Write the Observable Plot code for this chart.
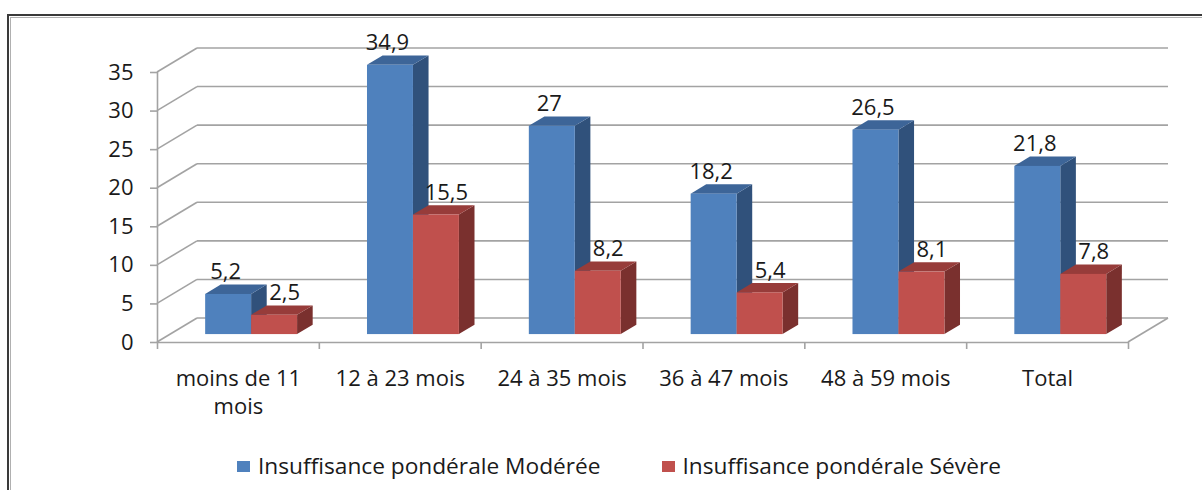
<!DOCTYPE html>
<html>
<head>
<meta charset="utf-8">
<script src="https://cdn.jsdelivr.net/npm/d3@7"></script>
<script src="https://cdn.jsdelivr.net/npm/@observablehq/plot@0.6"></script>
<style>
  html, body { margin: 0; padding: 0; background: #fff; width: 1202px; height: 490px; overflow: hidden; }
  #frame { position: absolute; left: 7px; top: 14px; width: 1300px; height: 600px; border: 2px solid #3a3a3a; }
  #frame::after { content: ""; position: absolute; left: 1px; top: 1px; right: 0; bottom: 0;
    border-left: 1px solid #b0b0b0; border-top: 1px solid #b0b0b0; }
  #chart { position: absolute; left: 0; top: 0; }
  #legend { position: absolute; left: 237px; top: 455px; display: flex; gap: 61px;
    font-family: "Open Sans", sans-serif; font-size: 22.7px; line-height: 22px; color: #1a1a1a; white-space: nowrap; }
  .item { display: flex; align-items: center; }
  .sw { width: 13px; height: 11px; margin-right: 8px; }
</style>
</head>
<body>
<div id="frame"></div>
<div id="chart"></div>
<div id="legend"></div>
<script>
// Underweight prevalence (%) by age group
const categories = ["moins de 11\nmois", "12 à 23 mois", "24 à 35 mois", "36 à 47 mois", "48 à 59 mois", "Total"];
const series = ["Insuffisance pondérale Modérée", "Insuffisance pondérale Sévère"];
const moderee = [5.2, 34.9, 27, 18.2, 26.5, 21.8];
const severe = [2.5, 15.5, 8.2, 5.4, 8.1, 7.8];
const yTicks = [0, 5, 10, 15, 20, 25, 30, 35];

// face shades per series: front, top, side
const frontColors = ["#4f81bd", "#c0504d"];
const topColors = ["#3d6598", "#973c3a"];
const sideColors = ["#30517b", "#7a302e"];
const gridColor = "#a3a3a3";

// oblique projection of the depth axis (pixels for full depth)
const DX = 40, DY = -24;
const D0 = 0.33, D1 = 0.72; // depth extent of the bars
const barW = 0.284;          // bar width in category units

const rows = [];
categories.forEach((c, i) => {
  rows.push({i, s: 0, series: series[0], value: moderee[i], x1: i + 0.5 - barW, x2: i + 0.5});
  rows.push({i, s: 1, series: series[1], value: severe[i], x1: i + 0.5, x2: i + 0.5 + barW});
});

const fmt = v => String(v).replace(".", ",");
const NS = "http://www.w3.org/2000/svg";
const el = (name, attrs) => {
  const e = document.createElementNS(NS, name);
  for (const k in attrs) e.setAttribute(k, attrs[k]);
  return e;
};

// left wall, back wall gridlines and right floor edge
function walls(index, {x, y}) {
  const g = el("g", {stroke: gridColor, "stroke-width": 1.6, fill: "none"});
  const x0 = x(0), xn = x(categories.length);
  for (const t of yTicks) {
    const yy = y(t);
    g.append(el("line", {x1: x0, y1: yy, x2: x0 + DX, y2: yy + DY}));
    g.append(el("line", {x1: x0 + DX, y1: yy + DY, x2: xn + DX, y2: yy + DY}));
  }
  g.append(el("line", {x1: xn, y1: y(0), x2: xn + DX, y2: y(0) + DY}));
  return g;
}

// side and top faces of each bar
function faces(index, {x, y}) {
  const g = el("g", {});
  const P = (px, py, d) => [px + DX * d, py + DY * d].join(",");
  for (const r of rows) {
    const xl = x(r.x1), xr = x(r.x2), yt = y(r.value), yb = y(0);
    g.append(el("polygon", {
      points: [P(xr, yb, D0), P(xr, yt, D0), P(xr, yt, D1), P(xr, yb, D1)].join(" "),
      fill: sideColors[r.s]
    }));
    g.append(el("polygon", {
      points: [P(xl, yt, D0), P(xr, yt, D0), P(xr, yt, D1), P(xl, yt, D1)].join(" "),
      fill: topColors[r.s]
    }));
  }
  return g;
}

const chart = Plot.plot({
  width: 1202,
  height: 440,
  marginLeft: 157,
  marginRight: 74,
  marginTop: 72,
  marginBottom: 98,
  x: {domain: [0, categories.length], label: null},
  y: {domain: [0, 35], label: null},
  color: {domain: series, range: frontColors},
  style: {fontFamily: "'Open Sans', sans-serif", fontSize: "22px", color: "#1a1a1a", background: "transparent"},
  marks: [
    walls,
    Plot.ruleY([0], {x1: 0, x2: categories.length, stroke: gridColor, strokeWidth: 1.6}),
    Plot.ruleX([0], {y1: 0, y2: 35, stroke: gridColor, strokeWidth: 1.6}),
    Plot.axisY({ticks: yTicks, tickSize: 7, tickPadding: 17, stroke: gridColor, strokeWidth: 1.6, label: null}),
    Plot.axisX({ticks: d3.range(categories.length + 1), tickSize: 7, tickFormat: () => "", stroke: gridColor, strokeWidth: 1.6, label: null}),
    Plot.axisX({
      ticks: categories.map((_, i) => i + 0.5),
      tickSize: 0,
      tickPadding: 24,
      tickFormat: v => categories[Math.round(v - 0.5)],
      lineHeight: 1.27,
      label: null
    }),
    faces,
    Plot.rect(rows, {x1: "x1", x2: "x2", y1: 0, y2: "value", fill: "series", dx: DX * D0, dy: DY * D0}),
    Plot.text(rows.filter(d => d.s === 0), {
      x: d => (d.x1 + d.x2) / 2, y: "value", text: d => fmt(d.value),
      dx: DX * D0 - 3, dy: -23, lineAnchor: "bottom", fill: "#1a1a1a"
    }),
    Plot.text(rows.filter(d => d.s === 1), {
      x: d => (d.x1 + d.x2) / 2, y: "value", text: d => fmt(d.value),
      dx: DX * D0 + 10, dy: -23, lineAnchor: "bottom", fill: "#1a1a1a"
    })
  ]
});
document.getElementById("chart").append(chart);

const legend = document.getElementById("legend");
series.forEach((name, k) => {
  const item = document.createElement("div");
  item.className = "item";
  const sw = document.createElement("span");
  sw.className = "sw";
  sw.style.background = frontColors[k];
  item.append(sw, document.createTextNode(name));
  legend.append(item);
});
</script>
</body>
</html>
